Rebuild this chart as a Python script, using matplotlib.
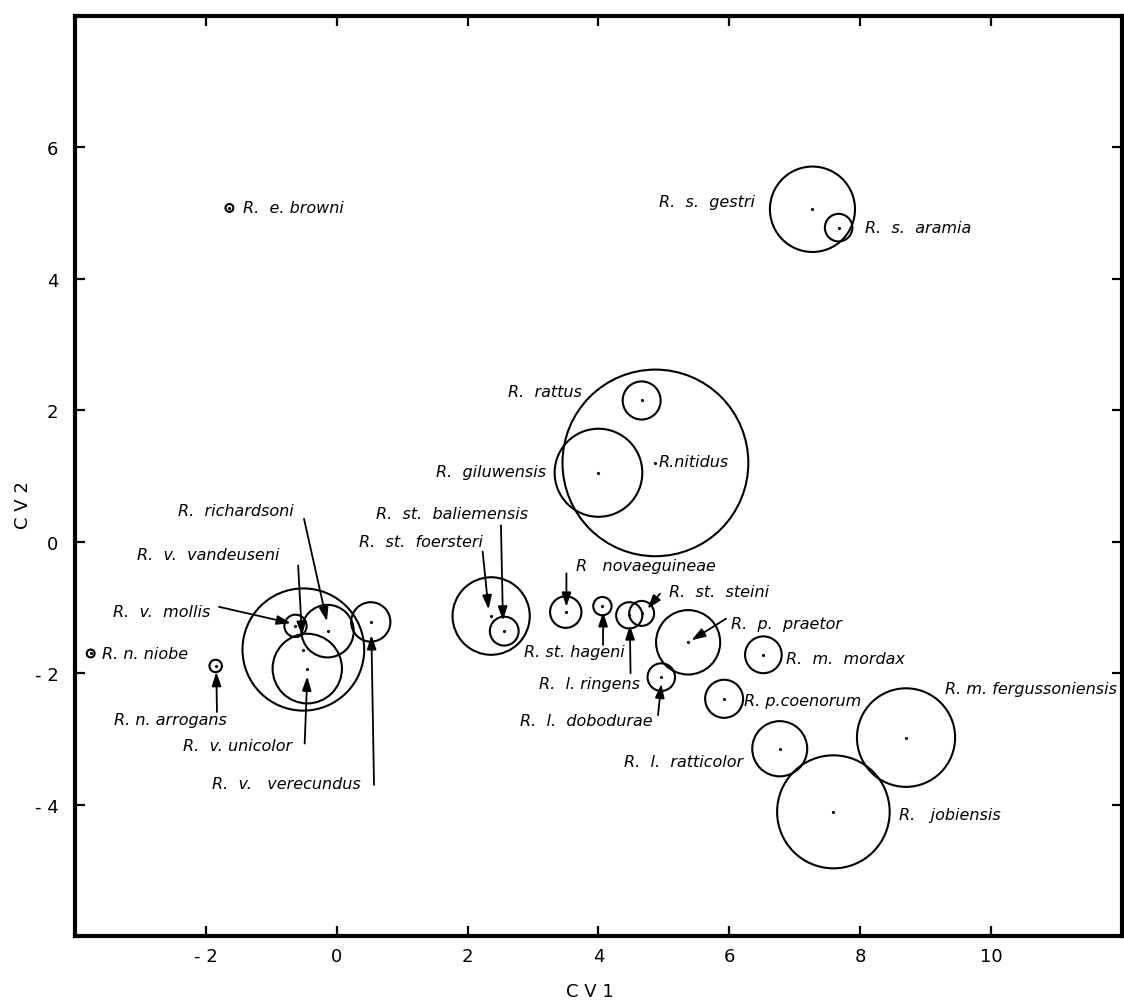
import matplotlib
matplotlib.use("Agg")
import matplotlib.pyplot as plt
from matplotlib.patches import Circle

# CV1 / CV2 group means and circle radii
names = ["R. n. niobe", "R. e. browni", "R. n. arrogans", "R. v. vandeuseni", "R. v. mollis",
         "R. richardsoni", "R. v. unicolor", "R. v. verecundus", "R. st. foersteri",
         "R. st. baliemensis", "R novaeguineae", "R. st. hageni", "R. l. ringens",
         "R. st. steini", "R. p. praetor", "R. l. dobodurae", "R. p.coenorum", "R. m. mordax",
         "R. l. ratticolor", "R. m. fergussoniensis", "R. jobiensis", "R. rattus",
         "R. nitidus", "R. giluwensis", "R. s. gestri", "R. s. aramia"]
cv1 = [-3.76, -1.64, -1.85, -0.51, -0.63, -0.14, -0.45, 0.52, 2.36, 2.56, 3.50, 4.06, 4.47,
       4.66, 5.37, 4.96, 5.92, 6.52, 6.77, 8.70, 7.59, 4.66, 4.87, 4.00, 7.27, 7.67]
cv2 = [-1.70, 5.08, -1.89, -1.64, -1.28, -1.36, -1.93, -1.22, -1.13, -1.36, -1.07, -0.98, -1.12,
       -1.09, -1.53, -2.06, -2.39, -1.72, -3.15, -2.98, -4.11, 2.15, 1.20, 1.05, 5.06, 4.78]
radius = [0.06, 0.06, 0.095, 0.93, 0.17, 0.40, 0.53, 0.30, 0.59, 0.22, 0.24, 0.14, 0.20,
          0.19, 0.49, 0.21, 0.29, 0.28, 0.42, 0.75, 0.86, 0.29, 1.42, 0.67, 0.65, 0.21]

xticks = [-2, 0, 2, 4, 6, 8, 10]
xticklabels = ["- 2", "0", "2", "4", "6", "8", "10"]
yticks = [-4, -2, 0, 2, 4, 6]
yticklabels = ["- 4", "- 2", "0", "2", "4", "6"]

# label text, position, alignment
labels = {
    "R. n. niobe": ("R. n. niobe", -3.58, -1.70, "left"),
    "R. e. browni": ("R.  e. browni", -1.43, 5.08, "left"),
    "R. n. arrogans": ("R. n. arrogans", -2.54, -2.70, "center"),
    "R. v. vandeuseni": ("R.  v.  vandeuseni", -0.88, -0.20, "right"),
    "R. v. mollis": ("R.  v.  mollis", -1.93, -1.06, "right"),
    "R. richardsoni": ("R.  richardsoni", -0.65, 0.48, "right"),
    "R. v. unicolor": ("R.  v. unicolor", -0.68, -3.10, "right"),
    "R. v. verecundus": ("R.  v.   verecundus", 0.37, -3.68, "right"),
    "R. st. foersteri": ("R.  st.  foersteri", 2.23, 0.0, "right"),
    "R. st. baliemensis": ("R.  st.  baliemensis", 2.92, 0.43, "right"),
    "R novaeguineae": ("R   novaeguineae", 3.66, -0.36, "left"),
    "R. st. hageni": ("R. st. hageni", 4.40, -1.67, "right"),
    "R. l. ringens": ("R.  l. ringens", 4.64, -2.16, "right"),
    "R. st. steini": ("R.  st.  steini", 5.08, -0.76, "left"),
    "R. p. praetor": ("R.  p.  praetor", 6.03, -1.24, "left"),
    "R. l. dobodurae": ("R.  l.  dobodurae", 4.83, -2.72, "right"),
    "R. p.coenorum": ("R. p.coenorum", 6.23, -2.41, "left"),
    "R. m. mordax": ("R.  m.  mordax", 6.86, -1.78, "left"),
    "R. l. ratticolor": ("R.  l.  ratticolor", 6.21, -3.34, "right"),
    "R. m. fergussoniensis": ("R. m. fergussoniensis", 11.93, -2.23, "right"),
    "R. jobiensis": ("R.   jobiensis", 8.59, -4.15, "left"),
    "R. rattus": ("R.  rattus", 3.74, 2.28, "right"),
    "R. nitidus": ("R.nitidus", 4.92, 1.22, "left"),
    "R. giluwensis": ("R.  giluwensis", 3.20, 1.07, "right"),
    "R. s. gestri": ("R.  s.  gestri", 6.39, 5.18, "right"),
    "R. s. aramia": ("R.  s.  aramia", 8.07, 4.78, "left"),
}

# arrows: label side -> tip at the group mean
arrows = [
    ((-1.80, -0.99), (-0.70, -1.24)),
    ((-0.59, -0.36), (-0.53, -1.43)),
    ((-0.50, 0.35), (-0.15, -1.21)),
    ((-0.49, -3.07), (-0.45, -2.05)),
    ((0.57, -3.70), (0.53, -1.42)),
    ((-1.83, -2.59), (-1.84, -1.98)),
    ((2.23, -0.15), (2.32, -1.03)),
    ((2.51, 0.25), (2.54, -1.20)),
    ((3.51, -0.48), (3.51, -0.99)),
    ((4.07, -1.57), (4.07, -1.07)),
    ((4.49, -2.00), (4.48, -1.27)),
    ((4.94, -0.79), (4.75, -1.02)),
    ((5.95, -1.17), (5.42, -1.50)),
    ((4.91, -2.64), (4.96, -2.16)),
]

fig = plt.figure(figsize=(11.24, 10.04), dpi=100)
ax = fig.add_axes([0.0667, 0.0667, 0.9315, 0.9163])

for x, y, r in zip(cv1, cv2, radius):
    ax.add_patch(Circle((x, y), r, fill=False, lw=1.5, ec="black"))
ax.plot(cv1, cv2, "k.", ms=2.5)

for n in names:
    t, x, y, ha = labels[n]
    ax.text(x, y, t, ha=ha, va="center", fontsize=11.5, style="italic")

for (x0, y0), (x1, y1) in arrows:
    ax.annotate("", xy=(x1, y1), xytext=(x0, y0),
                arrowprops=dict(arrowstyle="-|>,head_length=0.6,head_width=0.2",
                                lw=1.3, color="black",
                                mutation_scale=14, shrinkA=0, shrinkB=0))

ax.set_xlim(-4, 12)
ax.set_ylim(-6, 8)
ax.set_xticks(xticks)
ax.set_xticklabels(xticklabels)
ax.set_yticks(yticks)
ax.set_yticklabels(yticklabels)
ax.tick_params(direction="in", length=7, width=1.6, top=True, right=True,
               labelsize=13)
ax.tick_params(axis="x", pad=8)
ax.tick_params(axis="y", pad=12)
for s in ax.spines.values():
    s.set_linewidth(3)

fig.text(0.525, 0.012, "C V 1", ha="center", va="center", fontsize=13)
fig.text(0.0205, 0.497, "C V 2", ha="center", va="center", fontsize=13, rotation=90)

fig.savefig("out.png", dpi=100)
